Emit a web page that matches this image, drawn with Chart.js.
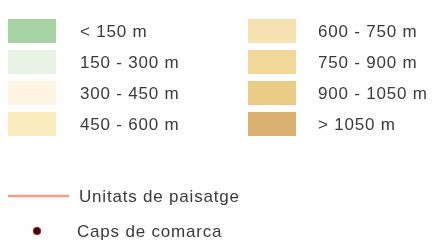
<!DOCTYPE html>
<html>
<head>
<meta charset="utf-8">
<script src="https://cdn.jsdelivr.net/npm/chart.js@4/dist/chart.umd.min.js"></script>
<style>
  html, body { margin:0; padding:0; background:#fff; }
  canvas { display:block; }
</style>
</head>
<body>
<canvas id="legendChart" width="437" height="245"></canvas>
<script>
// data
const altLabels = ['< 150 m','150 - 300 m','300 - 450 m','450 - 600 m','600 - 750 m','750 - 900 m','900 - 1050 m','> 1050 m'];
const altColors = ['#a7d3a4','#e8f3e5','#fdf4e2','#fcedbe','#f6e2b0','#f1d898','#e9cb86','#dab070'];
const lineLabel = 'Unitats de paisatge';
const dotLabel = 'Caps de comarca';

// layout (pixel units, scales run 0..437 / 0..245)
const W = 437, H = 245;
const colSwatchX = [32, 272];
const colTextX = [80, 318];
const rowY0 = 31, rowStep = 31;
const swW = 48, swH = 24;
const lineY = 196, lineX = [8, 69], lineTextX = 79;
const dotX = 37, dotY = 231, dotTextX = 77;

function swatch(color){
  const c = document.createElement('canvas');
  c.width = swW; c.height = swH;
  const g = c.getContext('2d');
  g.fillStyle = color; g.fillRect(0,0,swW,swH);
  return c;
}

const swatchPts = altLabels.map((l,i)=>({ x: colSwatchX[Math.floor(i/4)], y: rowY0 + (i%4)*rowStep }));

const textPlugin = {
  id:'legendText',
  afterDatasetsDraw(chart){
    const {ctx, scales:{x,y}} = chart;
    ctx.save();
    ctx.fillStyle = '#3a3a3a';
    ctx.font = '17px "Liberation Sans", Arial, sans-serif';
    ctx.letterSpacing = '0.8px';
    ctx.textBaseline = 'middle';
    altLabels.forEach((l,i)=>{
      const c = Math.floor(i/4);
      ctx.fillText(l, x.getPixelForValue(colTextX[c]), y.getPixelForValue(rowY0 + (i%4)*rowStep) + 1);
    });
    ctx.fillText(lineLabel, x.getPixelForValue(lineTextX), y.getPixelForValue(lineY) + 1);
    ctx.fillText(dotLabel, x.getPixelForValue(dotTextX), y.getPixelForValue(dotY) + 1);
    ctx.restore();
  }
};

new Chart(document.getElementById('legendChart'), {
  type:'scatter',
  data:{
    datasets:[
      { label:'altitud', data: swatchPts, pointStyle: altColors.map(swatch), pointRadius: 24, pointHoverRadius: 24 },
      { type:'line', label: lineLabel, data: lineX.map(v=>({x:v, y:lineY})), borderColor:'#f2a282', borderWidth:2.5, pointRadius:0, fill:false },
      { label: dotLabel, data:[{x:dotX, y:dotY}], pointRadius:3.5, backgroundColor:'#3a0000', borderColor:'#a02020', borderWidth:1.2 }
    ]
  },
  options:{
    responsive:false,
    animation:false,
    events:[],
    layout:{ padding:0, autoPadding:false },
    plugins:{ legend:{display:false}, tooltip:{enabled:false} },
    scales:{
      x:{ type:'linear', min:0, max:W, display:false },
      y:{ type:'linear', min:0, max:H, reverse:true, display:false }
    }
  },
  plugins:[textPlugin]
});
</script>
</body>
</html>
